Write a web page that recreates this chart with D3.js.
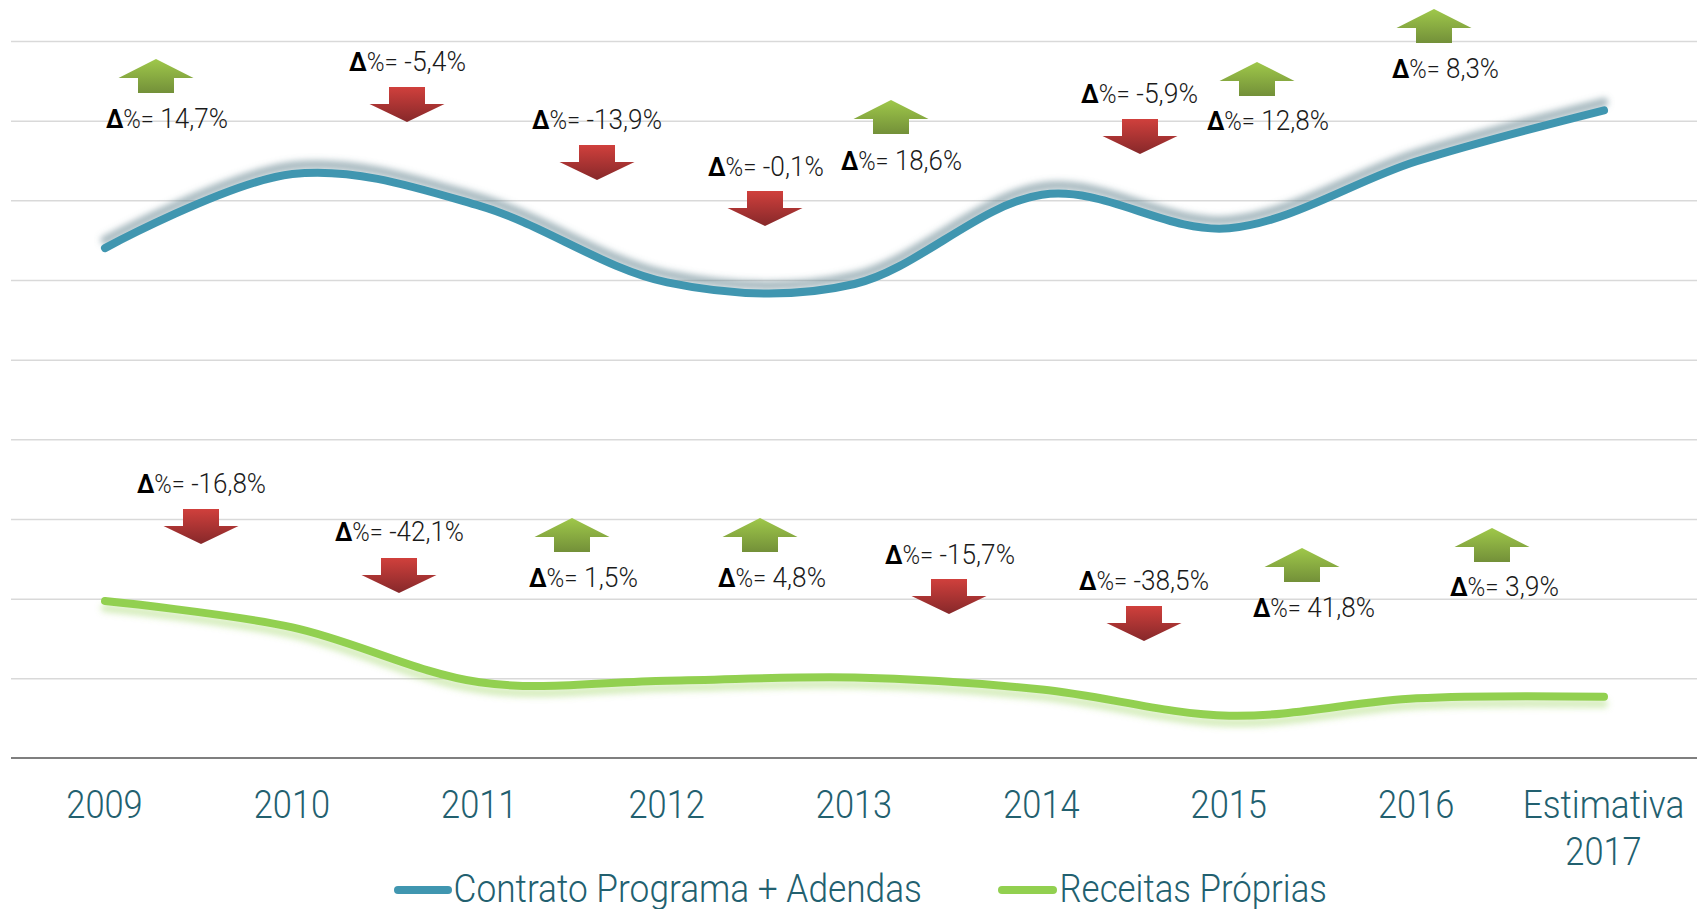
<!DOCTYPE html>
<html><head><meta charset="utf-8">
<script src="https://cdn.jsdelivr.net/npm/d3@7"></script>
<style>html,body{margin:0;background:#fff;overflow:hidden}text{font-family:Roboto,"Open Sans",sans-serif}</style>
</head><body><svg id="c" width="1697" height="909"></svg>
<script>
const categories = ["2009","2010","2011","2012","2013","2014","2015","2016","Estimativa 2017"];
const contrato = [640,733,693,597,595,707,665,749,813];
const receitas = [197,164,95,97,101,86,53,75,77];
const yTicks = [0,100,200,300,400,500,600,700,800,900];
const deltaContrato = [14.7,-5.4,-13.9,-0.1,18.6,-5.9,12.8,8.3];
const deltaReceitas = [-16.8,-42.1,1.5,4.8,-15.7,-38.5,41.8,3.9];
const legendNames = ["Contrato Programa + Adendas","Receitas Próprias"];

// annotation layout (arrow centre, arrow top, label left, label right, label baseline)
const layoutContrato = [[156,59,106,228,128],[407,87,349,466,71],[597,145,532,662,129],[765,191,708,824,176],
  [891,100,841,962,170],[1140,119,1081,1198,103],[1257,62,1207,1329,130],[1434,9,1392,1499,78]];
const layoutReceitas = [[201,509,137,266,493],[399,558,335,464,541],[572,518,529,638,587],[760,518,718,826,587],
  [949,579,885,1015,564],[1144,606,1079,1209,590],[1302,548,1253,1375,617],[1492,528,1450,1559,596]];

const svg = d3.select("#c");
const x = d3.scalePoint().domain(categories).range([105,1604]);
const y = d3.scaleLinear().domain([0,900]).range([758,41]);
const textColor = "#22606f";

const defs = svg.append("defs");
function grad(id,c0,c1){const g=defs.append("linearGradient").attr("id",id).attr("x1",0).attr("y1",0).attr("x2",0).attr("y2",1);
  g.append("stop").attr("offset","0%").attr("stop-color",c0);g.append("stop").attr("offset","100%").attr("stop-color",c1);}
grad("gUp","#9fc84a","#739039");grad("gDown","#d0403c","#86282a");
defs.append("filter").attr("id","blur").attr("x","-5%").attr("y","-30%").attr("width","110%").attr("height","160%")
  .append("feGaussianBlur").attr("stdDeviation",3);

// grid
const gridAxis = d3.axisLeft(y).tickValues(yTicks.slice(1)).tickSize(-1686).tickFormat("");
const gg = svg.append("g").attr("transform","translate(11,0)").call(gridAxis);
gg.select(".domain").remove();
gg.selectAll("line").attr("stroke","#d9d9d9").attr("stroke-width",1.5);

// x axis
const xAxis = d3.axisBottom(x).tickSize(0).tickPadding(0);
const xg = svg.append("g").attr("transform",`translate(0,${y(0)})`).call(xAxis);
xg.select(".domain").remove();
svg.append("line").attr("x1",11).attr("x2",1697).attr("y1",y(0)).attr("y2",y(0)).attr("stroke","#7f7f7f").attr("stroke-width",2);
xg.selectAll("text").remove();
xg.selectAll(".tick").each(function(d){
  d.split(" ").forEach((p,i)=>{
    const s=d3.select(this).append("text").text(p).attr("x",-1).attr("y",60+i*47).attr("fill",textColor)
      .attr("text-anchor","middle").style("font-size","38px").style("font-weight",300);
    const n=s.node().getComputedTextLength();
    s.attr("textLength",n*(p.length>4?0.925:0.905)).attr("lengthAdjust","spacingAndGlyphs");
  });
});

// lines
const line = d3.line().x((d,i)=>x(categories[i])).y(d=>y(d)).curve(d3.curveCardinal.tension(0));
svg.append("path").datum(contrato).attr("d",line).attr("fill","none").attr("stroke","#5f7f8a").attr("stroke-opacity",.55)
  .attr("stroke-width",9).attr("stroke-linecap","round").attr("transform","translate(0,-8)").attr("filter","url(#blur)");
svg.append("path").datum(receitas).attr("d",line).attr("fill","none").attr("stroke","#92d050").attr("stroke-opacity",.4)
  .attr("stroke-width",8).attr("stroke-linecap","round").attr("transform","translate(0,7)").attr("filter","url(#blur)");
svg.append("path").datum(contrato).attr("d",line).attr("fill","none").attr("stroke","#4096b0").attr("stroke-width",8).attr("stroke-linecap","round");
svg.append("path").datum(receitas).attr("d",line).attr("fill","none").attr("stroke","#92d050").attr("stroke-width",8).attr("stroke-linecap","round");

// arrows + labels
const arrowUp = d3.line()([[0,0],[37.5,19],[18,19],[18,34],[-18,34],[-18,19],[-37.5,19]])+"Z";
const arrowDown = d3.line()([[-18,0],[18,0],[18,17],[37.5,17],[0,35],[-37.5,17],[-18,17]])+"Z";
function annotate(deltas,layout){
  deltas.forEach((v,i)=>{
    const [cx,top,l,r,base]=layout[i], up=v>=0;
    svg.append("path").attr("d",up?arrowUp:arrowDown).attr("transform",`translate(${cx},${top})`)
      .attr("fill",`url(#${up?"gUp":"gDown"})`);
    const t=svg.append("text").attr("x",l).attr("y",base).attr("fill","#1a1a1a")
      .attr("textLength",r-l).attr("lengthAdjust","spacingAndGlyphs");
    t.append("tspan").text("Δ").style("font-weight",700).style("font-size","25px").attr("fill","#000");
    t.append("tspan").text("%=").style("font-weight",300).style("font-size","25px");
    t.append("tspan").text(" "+d3.format(".1f")(v).replace(".",",").replace("−","-")+"%").style("font-weight",300).style("font-size","27.5px");
  });
}
annotate(deltaContrato,layoutContrato);
annotate(deltaReceitas,layoutReceitas);

// legend
const lg=[[395,451,453.5,922,"#4096b0"],[999,1056,1059.5,1327,"#92d050"]];
lg.forEach((g,i)=>{
  svg.append("line").attr("x1",g[0]+3).attr("x2",g[1]-3).attr("y1",890).attr("y2",890).attr("stroke",g[4]).attr("stroke-width",8).attr("stroke-linecap","round");
  svg.append("text").text(legendNames[i]).attr("x",g[2]).attr("y",901.5).attr("fill",textColor).style("font-size","38px").style("font-weight",300)
    .attr("textLength",g[3]-g[2]).attr("lengthAdjust","spacingAndGlyphs");
});
</script></body></html>
